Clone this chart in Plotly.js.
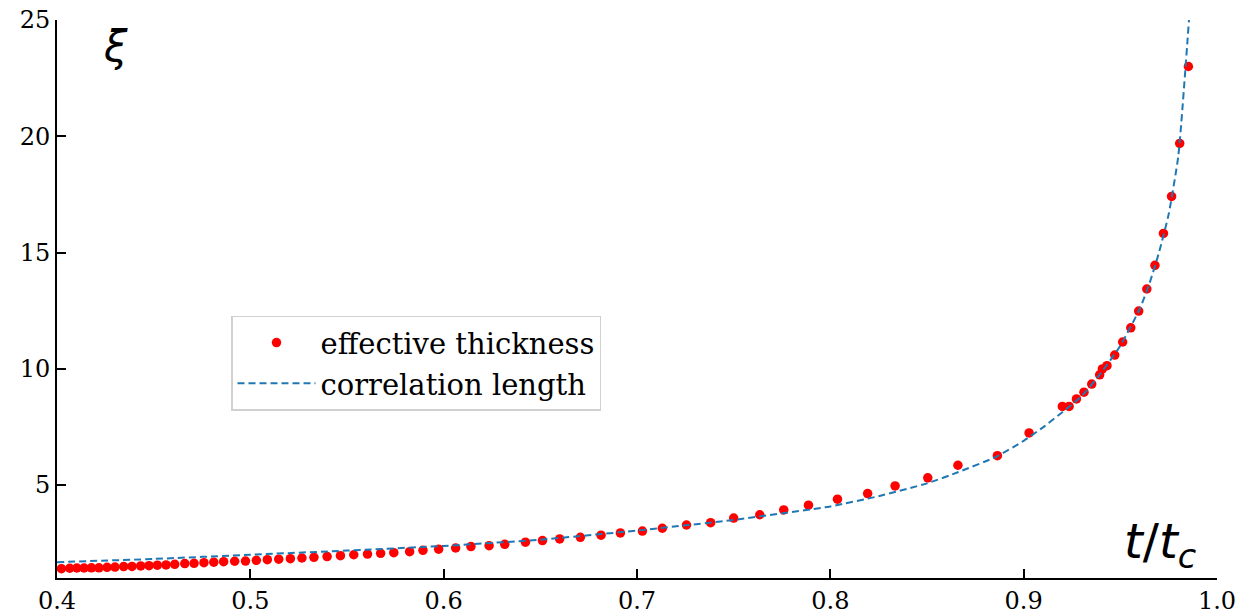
<!DOCTYPE html>
<html>
<head>
<meta charset="utf-8">
<script src="https://cdn.plot.ly/plotly-3.0.1.min.js"></script>
<style>
  html, body { margin: 0; padding: 0; background: #fff; }
  #chart { width: 1243px; height: 615px; }
</style>
</head>
<body>
<div id="chart"></div>
<script>
// effective thickness (red dots)
const thicknessX = [
  0.4023, 0.4066, 0.4103, 0.4140, 0.4178, 0.4217, 0.4259, 0.4300, 0.4345, 0.4388,
  0.4433, 0.4476, 0.4519, 0.4564, 0.4609, 0.4661, 0.4709, 0.4760, 0.4811, 0.4862,
  0.4919, 0.4975, 0.5031, 0.5088, 0.5147, 0.5207, 0.5267, 0.5329, 0.5397, 0.5466,
  0.5535, 0.5606, 0.5674, 0.5742, 0.5824, 0.5893, 0.5974, 0.6062, 0.6141, 0.6235,
  0.6316, 0.6423, 0.6511, 0.6600, 0.6707, 0.6814, 0.6914, 0.7028, 0.7131, 0.7256,
  0.7381, 0.7500, 0.7635, 0.7759, 0.7887, 0.8037, 0.8193, 0.8335, 0.8504, 0.8660,
  0.8864, 0.9028, 0.9200, 0.9235, 0.9273, 0.9312, 0.9352, 0.9393, 0.9407, 0.9431,
  0.9471, 0.9512, 0.9554, 0.9595, 0.9637, 0.9679, 0.9723, 0.9765, 0.9807, 0.9852
];
const thicknessY = [
  1.40, 1.42, 1.43, 1.43, 1.44, 1.44, 1.46, 1.47, 1.49, 1.50,
  1.52, 1.53, 1.55, 1.56, 1.59, 1.62, 1.63, 1.66, 1.68, 1.70,
  1.72, 1.73, 1.76, 1.79, 1.81, 1.83, 1.86, 1.89, 1.92, 1.96,
  2.00, 2.03, 2.06, 2.09, 2.13, 2.19, 2.24, 2.29, 2.35, 2.39,
  2.45, 2.54, 2.61, 2.68, 2.75, 2.84, 2.94, 3.02, 3.14, 3.28,
  3.38, 3.58, 3.72, 3.93, 4.13, 4.39, 4.63, 4.96, 5.31, 5.85,
  6.26, 7.24, 8.38, 8.38, 8.70, 8.99, 9.34, 9.74, 9.99, 10.13,
  10.59, 11.15, 11.76, 12.48, 13.43, 14.45, 15.82, 17.41, 19.69, 23.00
];
// correlation length (dashed blue)
const corrX = [0.40, 0.45, 0.50, 0.55, 0.60, 0.65, 0.70, 0.75, 0.80, 0.825, 0.85, 0.866, 0.886, 0.90, 0.91, 0.92, 0.93, 0.94, 0.95, 0.96, 0.965, 0.97, 0.975, 0.98, 0.9855];
const corrY = [1.68, 1.82, 2.00, 2.18, 2.38, 2.65, 3.04, 3.50, 4.08, 4.52, 5.07, 5.55, 6.22, 6.90, 7.48, 8.13, 8.82, 9.82, 10.99, 12.57, 13.65, 15.00, 16.65, 19.16, 25.00];

const xTicks = [0.4, 0.5, 0.6, 0.7, 0.8, 0.9, 1.0];
const xTickText = ["0.4", "0.5", "0.6", "0.7", "0.8", "0.9", "1.0"];
const yTicks = [5, 10, 15, 20, 25];
const yTickText = ["5", "10", "15", "20", "25"];

const serif = "DejaVu Serif, serif";
const sans = "DejaVu Sans, sans-serif";

const traces = [
  {
    x: thicknessX, y: thicknessY, type: "scatter", mode: "markers",
    name: "effective thickness",
    marker: { color: "#ff0000", size: 9.5, line: { width: 0 } }
  },
  {
    x: corrX, y: corrY, type: "scatter", mode: "lines",
    name: "correlation length",
    line: { color: "#1f77b4", width: 2, dash: "7px,4px", shape: "spline", smoothing: 0.5 }
  }
];

const axisCommon = {
  showgrid: false, zeroline: false, showline: true, linecolor: "#000", linewidth: 2,
  ticks: "inside", ticklen: 9, tickwidth: 2, tickcolor: "#000",
  tickfont: { family: serif, size: 24, color: "#000" },
  mirror: false
};

const layout = {
  width: 1243, height: 615,
  margin: { l: 57, r: 26, t: 20, b: 37, pad: 0 },
  paper_bgcolor: "#fff", plot_bgcolor: "#fff",
  showlegend: true,
  xaxis: Object.assign({}, axisCommon, {
    range: [0.4, 1.0], tickmode: "array", tickvals: xTicks, ticktext: xTickText
  }),
  yaxis: Object.assign({}, axisCommon, {
    range: [1, 25], tickmode: "array", tickvals: yTicks, ticktext: yTickText
  }),
  legend: {
    x: 0.15, y: 0.47, xanchor: "left", yanchor: "top",
    bgcolor: "#fff", bordercolor: "#d0d0d0", borderwidth: 1.5,
    font: { family: serif, size: 29, color: "#000" },
    itemwidth: 78, tracegroupgap: 4
  },
  annotations: [
    { xref: "paper", yref: "paper", x: 0.038, y: 1.0, xanchor: "left", yanchor: "top",
      text: "<i>ξ</i>", showarrow: false, font: { family: sans, size: 42, color: "#000" } },
    { xref: "paper", yref: "paper", x: 0.984, y: 0.0, xanchor: "right", yanchor: "bottom",
      text: "<i>t</i>/<i>t</i><sub><i>c</i></sub>", showarrow: false,
      font: { family: sans, size: 48, color: "#000" } }
  ]
};

Plotly.newPlot("chart", traces, layout, { displayModeBar: false, staticPlot: true });
</script>
</body>
</html>
